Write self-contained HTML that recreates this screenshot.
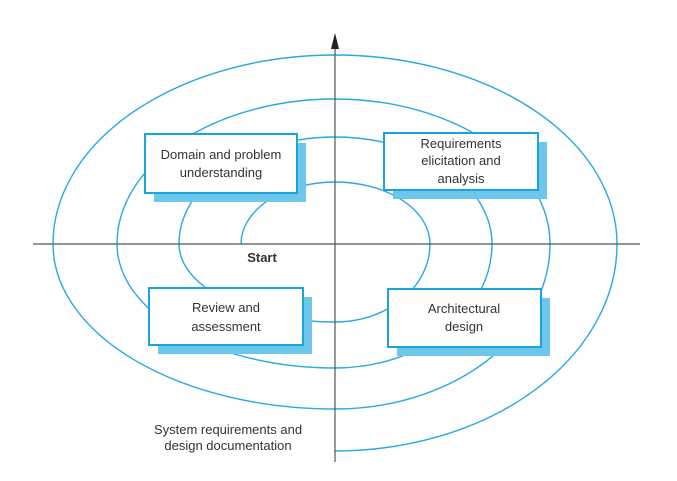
<!DOCTYPE html>
<html><head><style>
body{margin:0;background:#fff;}
svg{display:block;font-family:"Liberation Sans",sans-serif;}
</style></head><body>
<svg width="677" height="481" viewBox="0 0 677 481" xmlns="http://www.w3.org/2000/svg">
<g fill="none" stroke="#29a9de" stroke-width="1.4">
<path d="M241,244 A94,62 0 0 1 335,182 A95,62 0 0 1 430,244 A95,78 0 0 1 335,322 A156,78 0 0 1 179,244 A156,107 0 0 1 335,137 A157,107 0 0 1 492,244 A157,124 0 0 1 335,368 A218,124 0 0 1 117,244 A218,145 0 0 1 335,99 A215,145 0 0 1 550,244 A215,165 0 0 1 335,409 A282,165 0 0 1 53,244 A282,189 0 0 1 335,55 A282,189 0 0 1 617,244 A282,207 0 0 1 335,451"/>
</g>
<g stroke="#555" stroke-width="1.2">
<line x1="33" y1="244" x2="640" y2="244"/>
<line x1="335" y1="44" x2="335" y2="462"/>
</g>
<polygon points="335,33 331,49 339,49" fill="#222"/>
<g fill="#6cc7ea">
<rect x="154" y="143" width="152" height="59"/>
<rect x="393" y="142" width="154" height="57"/>
<rect x="158" y="297" width="154" height="57"/>
<rect x="397" y="298" width="153" height="58"/>
</g>
<g fill="#fff" stroke="#1ba4dc" stroke-width="2">
<rect x="145" y="134" width="152" height="59"/>
<rect x="384" y="133" width="154" height="57"/>
<rect x="149" y="288" width="154" height="57"/>
<rect x="388" y="289" width="153" height="58"/>
</g>
<g font-size="13" fill="#333" text-anchor="middle">
<text x="221" y="159">Domain and problem</text>
<text x="221" y="177">understanding</text>
<text x="461" y="148">Requirements</text>
<text x="461" y="165">elicitation and</text>
<text x="461" y="183">analysis</text>
<text x="226" y="312">Review and</text>
<text x="226" y="331">assessment</text>
<text x="464" y="313">Architectural</text>
<text x="464" y="331">design</text>
<text x="262" y="262" font-weight="bold">Start</text>
<text x="228" y="434">System requirements and</text>
<text x="228" y="450">design documentation</text>
</g>
</svg>
</body></html>
